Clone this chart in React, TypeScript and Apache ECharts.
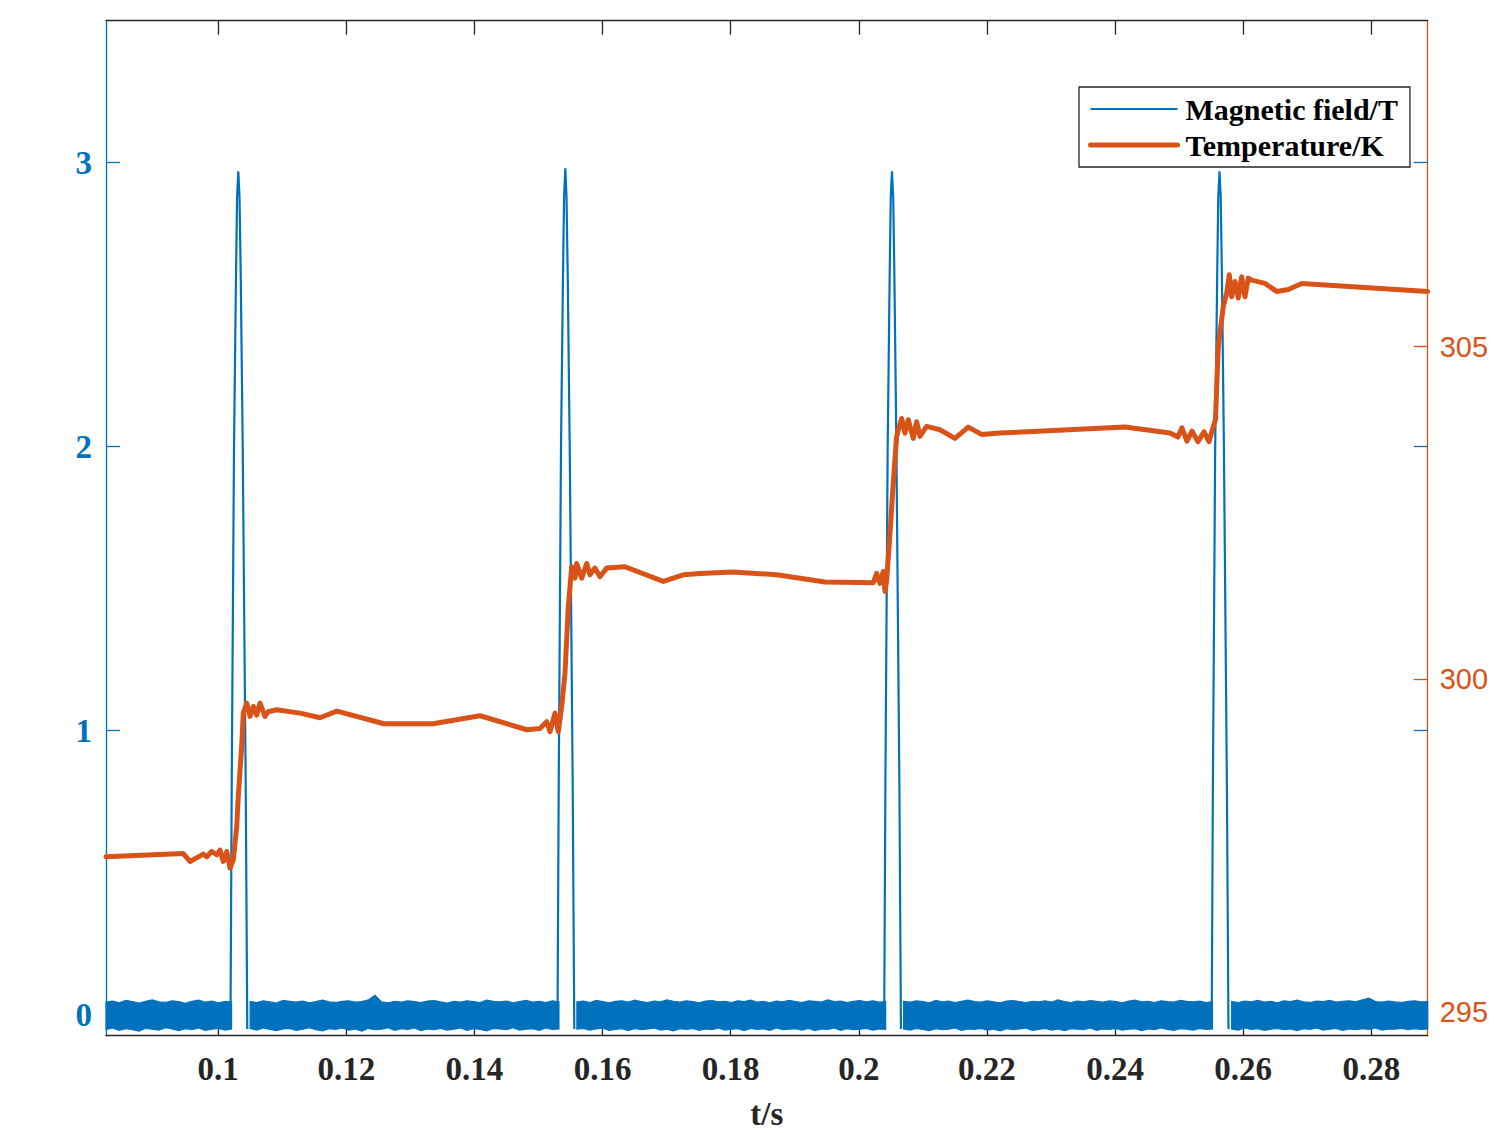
import React, { useEffect, useRef } from "react";
import * as echarts from "echarts";

// ---------- axes ----------
const X_RANGE = [0.0825, 0.2888];
const FIELD_RANGE = [-0.074, 3.5];
const TEMP_RANGE = [294.64, 309.9];
const X_TICKS = [0.1, 0.12, 0.14, 0.16, 0.18, 0.2, 0.22, 0.24, 0.26, 0.28];
const FIELD_TICKS = [0, 1, 2, 3];
const TEMP_TICKS = [295, 300, 305];
const SERIES_NAMES = ["Magnetic field/T", "Temperature/K"];
const X_NAME = "t/s";

// ---------- magnetic field pulses [t, B] ----------
const PULSE_1 = [[0.10193, -0.05], [0.10212, 0.8], [0.10248, 2.0], [0.10279, 2.6], [0.10296, 2.88], [0.10315, 2.97], [0.10334, 2.88], [0.10353, 2.6], [0.10384, 2.0], [0.10431, 0.8], [0.10455, -0.05]];
const PULSE_2 = [[0.15297, -0.05], [0.15316, 0.8], [0.15352, 2.0], [0.15383, 2.6], [0.154, 2.88], [0.15419, 2.98], [0.15438, 2.88], [0.15457, 2.6], [0.15488, 2.0], [0.15535, 0.8], [0.15559, -0.05]];
const PULSE_3 = [[0.20396, -0.05], [0.20415, 0.8], [0.20451, 2.0], [0.20482, 2.6], [0.20499, 2.88], [0.20518, 2.97], [0.20537, 2.88], [0.20556, 2.6], [0.20587, 2.0], [0.20634, 0.8], [0.20658, -0.05]];
const PULSE_4 = [[0.25508, -0.05], [0.25527, 0.8], [0.25563, 2.0], [0.25594, 2.6], [0.25611, 2.88], [0.2563, 2.97], [0.25649, 2.88], [0.25668, 2.6], [0.25699, 2.0], [0.25746, 0.8], [0.2577, -0.05]];
const PULSES = [PULSE_1, PULSE_2, PULSE_3, PULSE_4];

// ---------- baseline noise band: time spans and envelopes (x 0.001 T) ----------
const NOISE_SPANS = [[0.0825, 0.1021], [0.105, 0.1532], [0.156, 0.2042], [0.207, 0.2552], [0.2582, 0.2888]];
const NOISE_HI_0 = [44, 48, 42, 50, 46, 41, 47, 52, 45, 43, 49, 46, 40, 47, 51, 44, 48, 42, 46, 45];
const NOISE_LO_0 = [-52, -47, -55, -49, -53, -58, -48, -51, -54, -46, -50, -56, -49, -53, -47, -55, -51, -48, -54, -50];
const NOISE_HI_1 = [46, 43, 49, 45, 41, 50, 47, 44, 48, 42, 46, 51, 45, 43, 47, 49, 44, 46, 52, 68, 45, 42, 47, 44, 49, 46, 43, 48, 50, 45, 41, 47, 44, 49, 46, 43, 51, 47, 45, 48, 42, 46, 50, 44, 47, 43, 49, 45];
const NOISE_LO_1 = [-49, -54, -47, -52, -56, -50, -48, -55, -51, -46, -53, -57, -49, -52, -47, -54, -50, -58, -48, -53, -51, -46, -55, -49, -52, -47, -56, -50, -53, -48, -54, -51, -47, -55, -49, -52, -57, -48, -50, -53, -46, -54, -51, -49, -55, -47, -52, -50];
const NOISE_HI_2 = [45, 48, 43, 50, 46, 42, 47, 49, 44, 51, 46, 43, 48, 45, 52, 47, 44, 49, 46, 42, 48, 50, 45, 47, 43, 49, 46, 51, 44, 47, 42, 48, 45, 50, 46, 43, 49, 47, 44, 52, 46, 48, 43, 47, 50, 45, 49, 44, 46];
const NOISE_LO_2 = [-51, -48, -54, -50, -47, -55, -52, -49, -56, -48, -53, -50, -47, -54, -51, -57, -49, -52, -48, -55, -50, -53, -47, -54, -51, -49, -56, -48, -52, -50, -55, -47, -53, -51, -49, -54, -48, -56, -50, -52, -47, -55, -49, -53, -51, -48, -54, -50, -52];
const NOISE_HI_3 = [47, 44, 49, 46, 42, 50, 45, 48, 43, 47, 51, 46, 44, 49, 45, 42, 48, 50, 46, 43, 47, 45, 49, 44, 52, 46, 43, 48, 45, 50, 47, 44, 49, 46, 42, 48, 51, 45, 47, 43, 49, 46, 44, 50, 47, 45, 48, 43, 46];
const NOISE_LO_3 = [-50, -54, -48, -52, -56, -49, -53, -51, -47, -55, -50, -52, -48, -54, -51, -57, -49, -53, -50, -47, -55, -52, -48, -54, -50, -56, -49, -51, -53, -47, -55, -50, -52, -48, -54, -51, -49, -56, -50, -53, -47, -52, -55, -49, -51, -54, -48, -52, -50];
const NOISE_HI_4 = [46, 43, 48, 45, 50, 44, 47, 42, 49, 46, 51, 45, 43, 48, 46, 50, 44, 47, 49, 45, 52, 58, 46, 44, 48, 45, 43, 47, 49, 45, 46];
const NOISE_LO_4 = [-50, -54, -47, -52, -49, -55, -51, -48, -53, -50, -56, -49, -52, -47, -54, -51, -48, -55, -50, -53, -49, -52, -47, -54, -50, -51, -48, -53, -49, -52, -50];
const NOISE_HI = [NOISE_HI_0, NOISE_HI_1, NOISE_HI_2, NOISE_HI_3, NOISE_HI_4];
const NOISE_LO = [NOISE_LO_0, NOISE_LO_1, NOISE_LO_2, NOISE_LO_3, NOISE_LO_4];

// ---------- temperature [t, K] ----------
const TEMPERATURE = [
  [0.0825, 297.33], [0.09452, 297.38], [0.09561, 297.26], [0.09769, 297.37], [0.09822, 297.33], [0.099, 297.41],
  [0.09978, 297.36], [0.10029, 297.43], [0.10081, 297.26], [0.10134, 297.41], [0.10185, 297.16], [0.10237, 297.28],
  [0.1029, 297.78], [0.10315, 298.24], [0.10368, 298.99], [0.10393, 299.49], [0.10446, 299.64], [0.10498, 299.44],
  [0.10549, 299.59], [0.10602, 299.46], [0.10654, 299.64], [0.10732, 299.44], [0.10783, 299.51], [0.10914, 299.54],
  [0.11278, 299.49], [0.1159, 299.42], [0.11855, 299.52], [0.12589, 299.33], [0.13354, 299.33], [0.14087, 299.45],
  [0.14821, 299.24], [0.15024, 299.26], [0.15128, 299.36], [0.1518, 299.21], [0.15258, 299.49], [0.1531, 299.21],
  [0.15363, 299.59], [0.15414, 300.09], [0.15466, 301.09], [0.15519, 301.69], [0.15571, 301.52], [0.15597, 301.74],
  [0.15675, 301.52], [0.15753, 301.74], [0.15804, 301.57], [0.15882, 301.67], [0.1596, 301.54], [0.16065, 301.67],
  [0.16351, 301.69], [0.16948, 301.47], [0.17261, 301.57], [0.17521, 301.59], [0.18036, 301.61], [0.18723, 301.57],
  [0.19472, 301.46], [0.20226, 301.45], [0.20279, 301.59], [0.2033, 301.44], [0.20382, 301.62], [0.20409, 301.32],
  [0.20435, 301.49], [0.20487, 302.19], [0.20538, 302.95], [0.20591, 303.65], [0.20669, 303.92], [0.20721, 303.7],
  [0.20772, 303.9], [0.2085, 303.62], [0.20903, 303.87], [0.20955, 303.65], [0.21059, 303.8], [0.21267, 303.75],
  [0.21501, 303.62], [0.21709, 303.79], [0.21917, 303.68], [0.22203, 303.7], [0.2264, 303.72], [0.24155, 303.79],
  [0.24857, 303.7], [0.24982, 303.64], [0.25044, 303.78], [0.25122, 303.58], [0.252, 303.73], [0.25294, 303.57],
  [0.25388, 303.72], [0.25466, 303.57], [0.25528, 303.78], [0.25567, 303.9], [0.25611, 305.0], [0.25689, 305.6],
  [0.25742, 305.8], [0.25783, 306.08], [0.2582, 305.75], [0.25872, 305.98], [0.25923, 305.73], [0.25976, 306.05],
  [0.26028, 305.75], [0.26079, 306.03], [0.26132, 306.0], [0.2634, 305.95], [0.26522, 305.83], [0.26704, 305.86],
  [0.26913, 305.95], [0.28879, 305.83],
];

const BLUE = "#0072BD";
const ORANGE = "#D95319";
const AXIS_BLACK = "#262626";
const SERIF = "'Liberation Serif', 'Times New Roman', serif";
const SANS = "'Liberation Sans', Arial, sans-serif";

function fmtX(v: number) {
  return String(Number(v.toFixed(3)));
}

export default function App() {
  const ref = useRef<HTMLDivElement>(null);
  useEffect(() => {
    document.body.style.margin = "0";
    if (!ref.current) return;
    const chart = echarts.init(ref.current, undefined, { renderer: "svg" });

    const pulseSeries = PULSES.map((p) => ({
      name: SERIES_NAMES[0],
      type: "line",
      xAxisIndex: 0,
      yAxisIndex: 0,
      data: p,
      showSymbol: false,
      symbol: "none",
      lineStyle: { color: BLUE, width: 2.2 },
      itemStyle: { color: BLUE },
      z: 3,
    }));

    const option: any = {
      animation: false,
      backgroundColor: "#ffffff",
      grid: { left: 106, right: 79.3, top: 20.7, bottom: 97.3, containLabel: false, outerBoundsMode: "none" },
      legend: {
        data: [
          { name: SERIES_NAMES[0], lineStyle: { color: BLUE, width: 2.2 } },
          { name: SERIES_NAMES[1], lineStyle: { color: ORANGE, width: 5 } },
        ],
        orient: "vertical",
        left: 1079,
        top: 87,
        itemWidth: 87,
        itemHeight: 30,
        itemGap: 6,
        padding: [7, 12, 7, 9],
        borderColor: AXIS_BLACK,
        borderWidth: 1.3,
        backgroundColor: "#ffffff",
        selectedMode: false,
        itemStyle: { opacity: 0 },
        textStyle: { fontFamily: SERIF, fontWeight: "bold", fontSize: 30, color: "#000", padding: [0, 0, 0, 3] },
      },
      xAxis: [
        {
          type: "value",
          min: X_RANGE[0],
          max: X_RANGE[1],
          position: "bottom",
          name: X_NAME,
          nameLocation: "middle",
          nameGap: 64,
          nameTextStyle: { fontFamily: SERIF, fontWeight: "bold", fontSize: 33, lineHeight: 28, color: AXIS_BLACK },
          axisLine: { show: true, onZero: false, lineStyle: { color: AXIS_BLACK, width: 1.3 } },
          axisTick: { show: true, inside: true, length: 14, customValues: X_TICKS, lineStyle: { color: AXIS_BLACK, width: 1.3 } },
          axisLabel: {
            show: true,
            customValues: X_TICKS,
            formatter: (v: number) => fmtX(v),
            margin: 17,
            fontFamily: SERIF,
            fontWeight: "bold",
            fontSize: 33,
            color: AXIS_BLACK,
          },
          splitLine: { show: false },
        },
        {
          type: "value",
          min: X_RANGE[0],
          max: X_RANGE[1],
          position: "top",
          axisLine: { show: true, onZero: false, lineStyle: { color: AXIS_BLACK, width: 1.3 } },
          axisTick: { show: true, inside: true, length: 14, customValues: X_TICKS, lineStyle: { color: AXIS_BLACK, width: 1.3 } },
          axisLabel: { show: false },
          splitLine: { show: false },
        },
      ],
      yAxis: [
        {
          type: "value",
          min: FIELD_RANGE[0],
          max: FIELD_RANGE[1],
          position: "left",
          axisLine: { show: true, onZero: false, lineStyle: { color: BLUE, width: 1.3 } },
          axisTick: { show: true, inside: true, length: 14, customValues: FIELD_TICKS, lineStyle: { color: BLUE, width: 1.3 } },
          axisLabel: {
            show: true,
            customValues: FIELD_TICKS,
            margin: 14,
            fontFamily: SERIF,
            fontWeight: "bold",
            fontSize: 33,
            color: BLUE,
          },
          splitLine: { show: false },
        },
        {
          type: "value",
          min: TEMP_RANGE[0],
          max: TEMP_RANGE[1],
          position: "right",
          axisLine: { show: true, onZero: false, lineStyle: { color: ORANGE, width: 1.3 } },
          axisTick: { show: true, inside: true, length: 14, customValues: TEMP_TICKS, lineStyle: { color: ORANGE, width: 1.3 } },
          axisLabel: {
            show: true,
            customValues: TEMP_TICKS,
            margin: 12,
            fontFamily: SANS,
            fontSize: 29,
            color: ORANGE,
          },
          splitLine: { show: false },
        },
        {
          type: "value",
          min: FIELD_RANGE[0],
          max: FIELD_RANGE[1],
          position: "right",
          axisLine: { show: false, onZero: false },
          axisTick: { show: true, inside: true, length: 14, customValues: FIELD_TICKS, lineStyle: { color: BLUE, width: 1.3 } },
          axisLabel: { show: false },
          splitLine: { show: false },
        },
      ],
      series: [
        {
          type: "custom",
          xAxisIndex: 0,
          yAxisIndex: 0,
          data: NOISE_SPANS.map((s) => [s[0], 0]),
          z: 2,
          renderItem: (params: any, api: any) => {
            const k = params.dataIndex;
            const [t0, t1] = NOISE_SPANS[k];
            const hi = NOISE_HI[k];
            const lo = NOISE_LO[k];
            const pts: number[][] = [];
            for (let i = 0; i < hi.length; i++) {
              const t = t0 + ((t1 - t0) * i) / (hi.length - 1);
              pts.push(api.coord([t, hi[i] / 1000]));
            }
            for (let i = lo.length - 1; i >= 0; i--) {
              const t = t0 + ((t1 - t0) * i) / (lo.length - 1);
              pts.push(api.coord([t, lo[i] / 1000]));
            }
            return {
              type: "polygon",
              shape: { points: pts },
              style: { fill: BLUE, stroke: BLUE, lineWidth: 1.2, lineJoin: "miter" },
            };
          },
        },
        ...pulseSeries,
        {
          name: SERIES_NAMES[1],
          type: "line",
          xAxisIndex: 0,
          yAxisIndex: 1,
          data: TEMPERATURE,
          showSymbol: false,
          symbol: "none",
          lineStyle: { color: ORANGE, width: 5, join: "round", cap: "round" },
          itemStyle: { color: ORANGE },
          z: 4,
        },
      ],
    };

    chart.setOption(option);
    return () => chart.dispose();
  }, []);

  return <div ref={ref} style={{ width: 1507, height: 1133 }} />;
}
